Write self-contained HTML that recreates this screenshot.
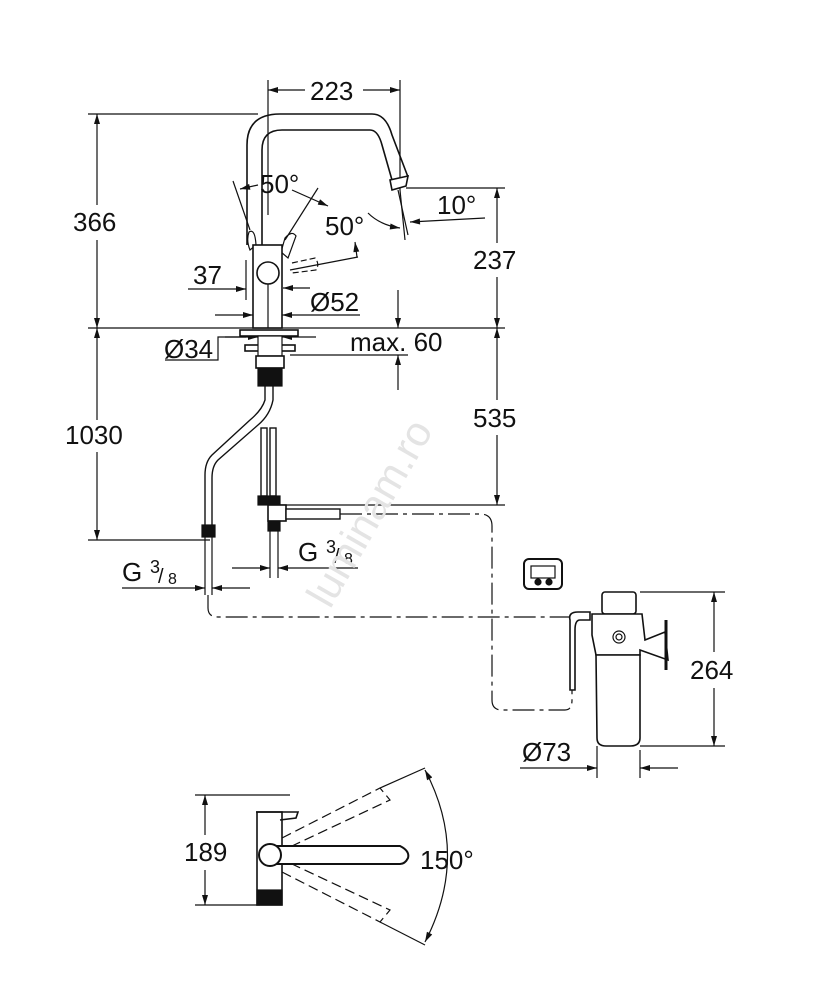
<!DOCTYPE html>
<html><head><style>
html,body{margin:0;padding:0;background:#fff;}
svg{display:block;}
text{font-family:"Liberation Sans",sans-serif;fill:#111;}
</style></head><body>
<svg width="834" height="1000" viewBox="0 0 834 1000" xmlns="http://www.w3.org/2000/svg">
<defs>
<marker id="a" viewBox="0 0 10 6" refX="10" refY="3" markerWidth="11" markerHeight="6" orient="auto-start-reverse" markerUnits="userSpaceOnUse"><path d="M0,0 L10,3 L0,6z" fill="#111"/></marker>
</defs>
<g stroke="#111" stroke-width="1.2" fill="none">
<line x1="268" y1="80" x2="268" y2="215"/><line x1="400" y1="80" x2="400" y2="190"/>
<line x1="268" y1="90" x2="305" y2="90" marker-start="url(#a)"/><line x1="363" y1="90" x2="400" y2="90" marker-end="url(#a)"/>
<line x1="88" y1="114" x2="258" y2="114"/>
<line x1="88" y1="328" x2="505" y2="328"/>
<line x1="88" y1="540" x2="210" y2="540"/>
<line x1="97" y1="114" x2="97" y2="205" marker-start="url(#a)"/><line x1="97" y1="240" x2="97" y2="328" marker-end="url(#a)"/>
<line x1="97" y1="328" x2="97" y2="420" marker-start="url(#a)"/><line x1="97" y1="452" x2="97" y2="540" marker-end="url(#a)"/>
<line x1="406" y1="188" x2="505" y2="188"/>
<line x1="497" y1="188" x2="497" y2="243" marker-start="url(#a)"/><line x1="497" y1="277" x2="497" y2="328" marker-end="url(#a)"/>
<line x1="497" y1="328" x2="497" y2="400" marker-start="url(#a)"/><line x1="497" y1="435" x2="497" y2="505" marker-end="url(#a)"/>
<line x1="280" y1="505" x2="505" y2="505"/>
<line x1="398" y1="290" x2="398" y2="328" marker-end="url(#a)"/>
<line x1="398" y1="390" x2="398" y2="355" marker-end="url(#a)"/>
<line x1="290" y1="355" x2="408" y2="355"/>
<path d="M247,245 L247,145 Q247,114 280,114 L372,114 Q386,114 392,135 L408,177" stroke-width="1.6"/>
<path d="M262,245 L262,150 Q262,130 282,130 L370,130 Q378,130 382,145 L392,180" stroke-width="1.6"/>
<path d="M390,180 L392,190 L406,186 L408,176z" fill="#fff" stroke-width="1.6"/>
<line x1="400" y1="190" x2="405" y2="240"/><line x1="398" y1="190" x2="408" y2="235"/>
<line x1="485" y1="218" x2="410" y2="222" marker-end="url(#a)"/>
<path d="M368,213 Q380,225 400,228" marker-end="url(#a)"/>
<line x1="233" y1="181" x2="250" y2="230"/><line x1="318" y1="188" x2="285" y2="240"/>
<line x1="258" y1="185" x2="240" y2="189" marker-end="url(#a)"/>
<line x1="292" y1="190" x2="328" y2="206" marker-end="url(#a)"/>
<line x1="290" y1="270" x2="358" y2="257"/>
<line x1="357" y1="257" x2="355" y2="242" marker-end="url(#a)"/>
<path d="M249,232 Q255,228 256,245 L250,250 Q246,240 249,232z"/>
<path d="M285,238 Q292,230 296,236 L288,258 L281,252z"/>
<path d="M292,263 L315,258 Q320,264 316,270 L292,273" stroke-dasharray="6,3"/>
<rect x="253" y="245" width="29" height="83" fill="#fff" stroke-width="1.6"/>
<circle cx="268" cy="273" r="11" stroke-width="1.6" fill="#fff"/>
<line x1="268" y1="284" x2="268" y2="328"/>
<line x1="188" y1="289" x2="246" y2="289" marker-end="url(#a)"/><line x1="246" y1="260" x2="246" y2="300"/>
<line x1="310" y1="288" x2="283" y2="288" marker-end="url(#a)"/>
<line x1="215" y1="315" x2="253" y2="315" marker-end="url(#a)"/>
<line x1="360" y1="315" x2="282" y2="315" marker-end="url(#a)"/>
<polyline points="165,360 218,360 218,337 246,337"/>
<line x1="225" y1="337" x2="258" y2="337" marker-end="url(#a)"/>
<line x1="316" y1="337" x2="282" y2="337" marker-end="url(#a)"/>
<rect x="240" y="330" width="58" height="6" fill="#fff" stroke-width="1.6"/>
<rect x="245" y="345" width="50" height="6" fill="#fff" stroke-width="1.6"/>
<rect x="258" y="336" width="24" height="20" fill="#fff"/>
<rect x="256" y="356" width="28" height="12" fill="#fff" stroke-width="1.6"/>
<rect x="258" y="368" width="24" height="18" fill="#111"/>
<path d="M265,386 L265,400 Q262,410 250,420 L212,455 Q205,462 205,475 L205,525" stroke-width="1.4"/>
<path d="M273,386 L273,400 Q270,415 258,425 L218,460 Q212,466 212,478 L212,525" stroke-width="1.4"/>
<rect x="202" y="525" width="13" height="12" fill="#111"/>
<line x1="205" y1="537" x2="205" y2="595"/><line x1="212" y1="537" x2="212" y2="595"/>
<rect x="261" y="428" width="6" height="68" fill="#fff" stroke-width="1.4"/>
<rect x="270" y="428" width="6" height="68" fill="#fff" stroke-width="1.4"/>
<rect x="258" y="496" width="22" height="9" fill="#111"/>
<rect x="268" y="505" width="18" height="16" fill="#fff" stroke-width="1.6"/>
<rect x="286" y="509" width="54" height="10" fill="#fff" stroke-width="1.4"/>
<rect x="268" y="521" width="12" height="10" fill="#111"/>
<line x1="270" y1="531" x2="270" y2="578"/><line x1="278" y1="531" x2="278" y2="578"/>
<line x1="232" y1="568" x2="270" y2="568" marker-end="url(#a)"/>
<line x1="358" y1="568" x2="278" y2="568" marker-end="url(#a)"/>
<line x1="122" y1="588" x2="205" y2="588" marker-end="url(#a)"/>
<line x1="250" y1="588" x2="212" y2="588" marker-end="url(#a)"/>
<path d="M340,514 L480,514 Q492,514 492,526 L492,700 Q492,710 502,710 L565,710 Q572,710 572,700 L572,690" stroke-dasharray="22,5,4,5"/>
<path d="M208,595 L208,608 Q208,617 218,617 L575,617" stroke-dasharray="22,5,4,5"/>
<rect x="524" y="559" width="38" height="30" rx="5" stroke-width="2"/>
<rect x="531" y="566" width="24" height="12"/>
<circle cx="538" cy="582" r="3" fill="#111"/><circle cx="549" cy="582" r="3" fill="#111"/>
<path d="M570,620 Q568,612 578,612 L590,612 L590,620 L580,620 Q575,620 575,630 L575,690 L570,690z" fill="#fff" stroke-width="1.6"/>
<rect x="602" y="592" width="34" height="22" rx="3" fill="#fff" stroke-width="1.6"/>
<path d="M592,614 L642,614 L645,640 L665,632 L668,660 L640,650 L640,655 L596,655 L592,635z" fill="#fff" stroke-width="1.6"/>
<circle cx="619" cy="637" r="6"/><circle cx="619" cy="637" r="3"/>
<line x1="666" y1="620" x2="666" y2="670" stroke-width="3"/>
<path d="M596,655 L640,655 L640,738 Q640,746 630,746 L606,746 Q597,746 597,738z" fill="#fff" stroke-width="1.6"/>
<line x1="640" y1="592" x2="725" y2="592"/><line x1="640" y1="746" x2="725" y2="746"/>
<line x1="714" y1="592" x2="714" y2="652" marker-start="url(#a)"/><line x1="714" y1="688" x2="714" y2="746" marker-end="url(#a)"/>
<line x1="597" y1="746" x2="597" y2="778"/><line x1="640" y1="750" x2="640" y2="778"/>
<line x1="520" y1="768" x2="597" y2="768" marker-end="url(#a)"/>
<line x1="678" y1="768" x2="640" y2="768" marker-end="url(#a)"/>
<line x1="195" y1="795" x2="290" y2="795"/><line x1="195" y1="905" x2="260" y2="905"/>
<line x1="205" y1="795" x2="205" y2="835" marker-start="url(#a)"/><line x1="205" y1="870" x2="205" y2="905" marker-end="url(#a)"/>
<rect x="257" y="812" width="25" height="93" fill="#fff" stroke-width="1.6"/>
<path d="M256,812 L298,812 L296,818 L280,820" stroke-width="1.6"/>
<rect x="257" y="890" width="25" height="15" fill="#111"/>
<path d="M265,846 L400,846 Q410,851 408,858 Q405,864 400,864 L265,864" stroke-width="2" fill="#fff"/>
<circle cx="270" cy="855" r="11" stroke-width="2" fill="#fff"/>
<path d="M282,838 L380,788 L390,800 L292,846" stroke-dasharray="10,5"/>
<path d="M282,872 L380,922 L390,910 L292,864" stroke-dasharray="10,5"/>
<line x1="380" y1="788" x2="425" y2="768"/><line x1="380" y1="922" x2="425" y2="945"/>
<path d="M425,770 Q470,855 425,942" marker-start="url(#a)" marker-end="url(#a)"/>
</g>
<g font-size="26">
<text x="310" y="100">223</text>
<text x="73" y="231">366</text>
<text x="65" y="444">1030</text>
<text x="473" y="269">237</text>
<text x="473" y="427">535</text>
<text x="260" y="193">50°</text>
<text x="325" y="235">50°</text>
<text x="437" y="214">10°</text>
<text x="193" y="284">37</text>
<text x="310" y="311">Ø52</text>
<text x="164" y="358">Ø34</text>
<text x="350" y="351">max. 60</text>
<text x="298" y="561">G</text><text x="326" y="553" font-size="18">3</text><text x="334" y="563" font-size="20">/</text><text x="344" y="564" font-size="16">8</text>
<text x="122" y="581">G</text><text x="150" y="573" font-size="18">3</text><text x="158" y="583" font-size="20">/</text><text x="168" y="584" font-size="16">8</text>
<text x="690" y="679">264</text>
<text x="522" y="761">Ø73</text>
<text x="184" y="861">189</text>
<text x="420" y="869">150°</text>
</g>
<text x="330" y="610" font-size="42" transform="rotate(-60 330 610)" style="fill:#e4e4e4">luminam.ro</text>
</svg>
</body></html>
